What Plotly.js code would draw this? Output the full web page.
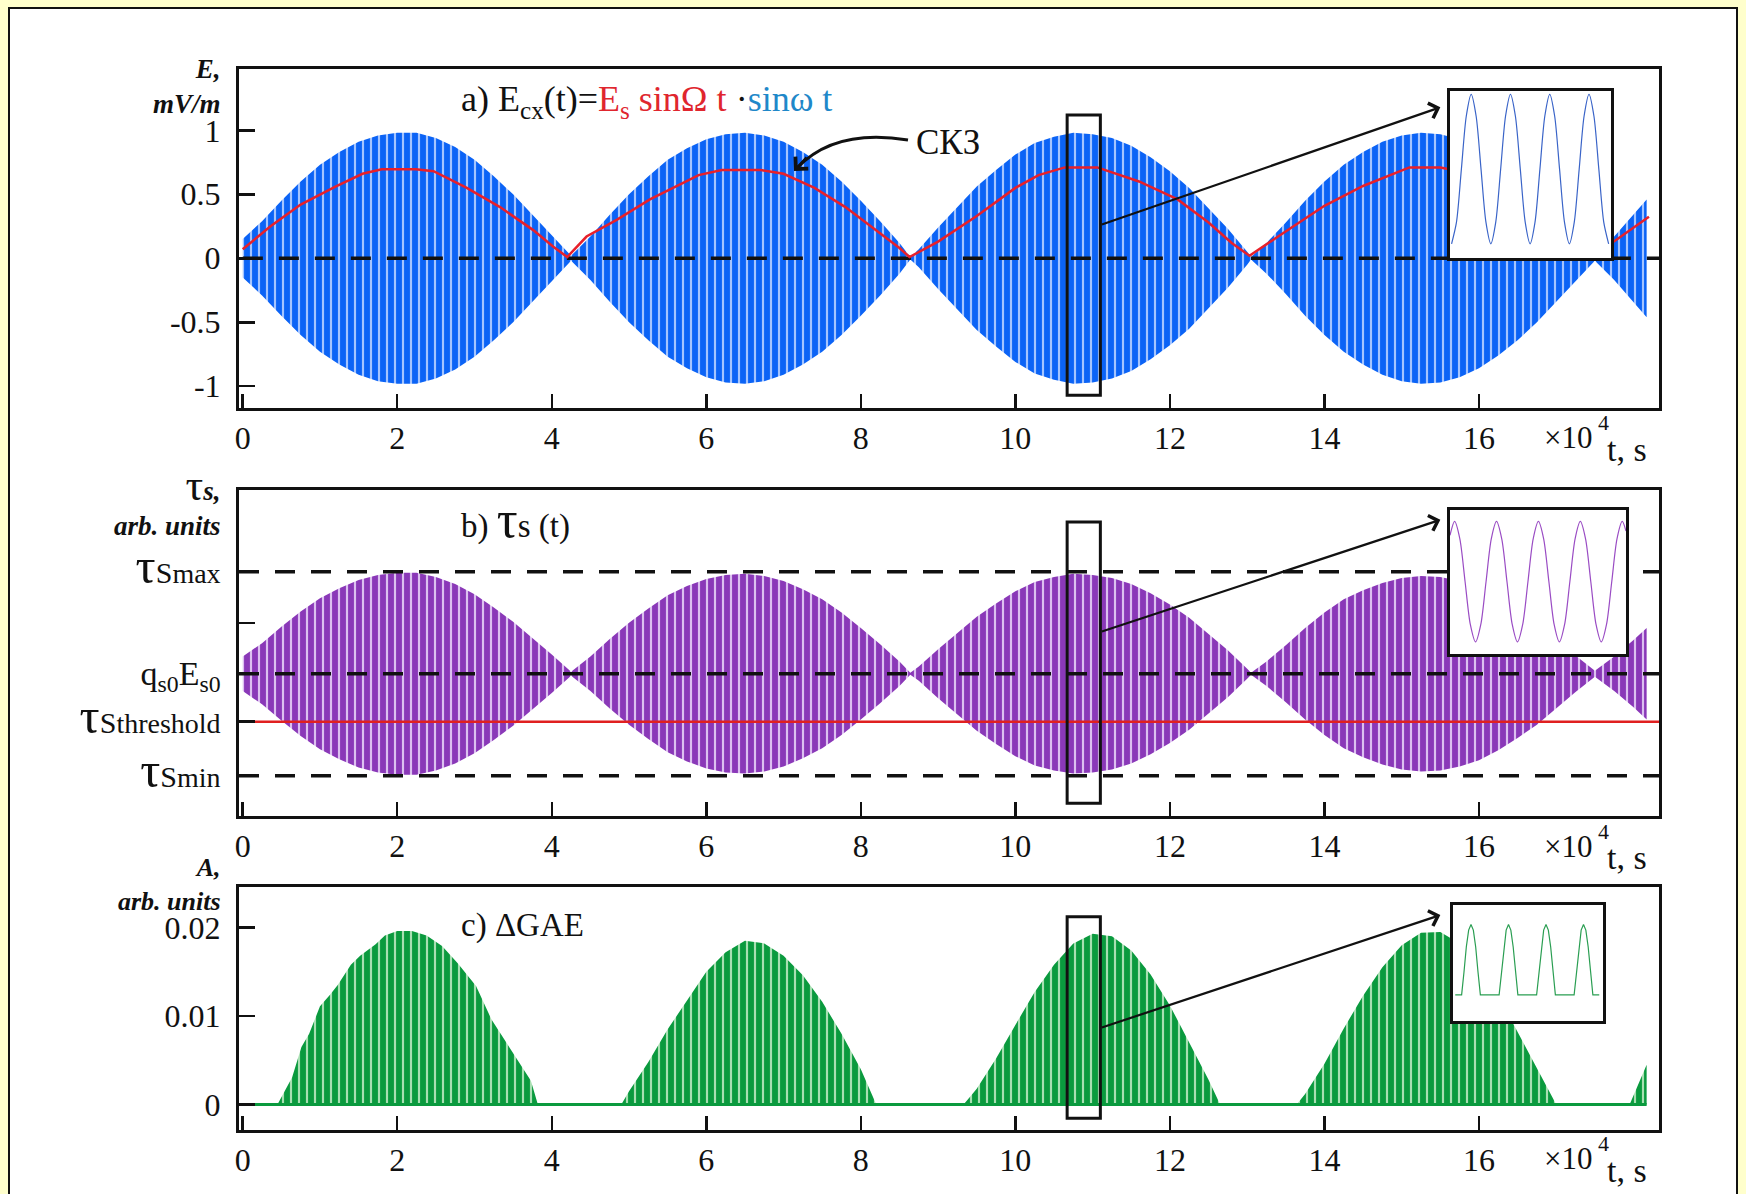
<!DOCTYPE html>
<html><head><meta charset="utf-8">
<script src="https://cdn.plot.ly/plotly-3.0.1.min.js"></script>
<style>html,body{margin:0;padding:0;background:#FFFFCC;}#chart{width:1746px;height:1194px;}</style>
</head><body><div id="chart"></div>
<script>
// ---------- data (units of 10^4 s) ----------
const tSig = [0,0.25,0.5,0.75,1,1.25,1.5,1.75,2,2.25,
  2.5,2.75,3,3.25,3.5,3.75,4,4.25,4.5,4.75,
  5,5.25,5.5,5.75,6,6.25,6.5,6.75,7,7.25,
  7.5,7.75,8,8.25,8.5,8.64,8.75,9,9.25,9.5,
  9.75,10,10.25,10.5,10.75,11,11.25,11.5,11.75,12,
  12.25,12.5,12.75,13,13.05,13.25,13.5,13.75,14,14.25,
  14.5,14.75,15,15.25,15.5,15.75,16,16.25,16.5,16.75,
  17,17.25,17.5,17.75,18,18.17];
// envelope of E(t), mV/m
const envE = [0.15,0.29,0.45,0.60,0.73,0.83,0.91,0.96,0.98,0.98,
  0.94,0.87,0.77,0.64,0.50,0.34,0.18,0.02,0.17,0.34,
  0.50,0.64,0.77,0.86,0.93,0.97,0.98,0.96,0.91,0.83,
  0.73,0.60,0.45,0.29,0.12,0.01,0.07,0.24,0.40,0.56,
  0.69,0.81,0.90,0.95,0.98,0.97,0.94,0.88,0.79,0.68,
  0.55,0.39,0.23,0.05,0.01,0.12,0.28,0.45,0.60,0.73,
  0.83,0.91,0.96,0.98,0.97,0.93,0.86,0.76,0.64,0.50,
  0.34,0.18,0.02,0.17,0.34,0.46];
// envelope of tau_s(t) around q_s0E_s0 (tau_Smax = +1, tau_Smin = -1)
const envTau = [0.17,0.30,0.46,0.61,0.74,0.84,0.92,0.97,0.99,0.99,
  0.95,0.88,0.78,0.65,0.51,0.35,0.19,0.02,0.17,0.34,
  0.50,0.64,0.77,0.86,0.93,0.97,0.98,0.96,0.91,0.83,
  0.73,0.60,0.45,0.29,0.12,0.01,0.07,0.24,0.40,0.56,
  0.69,0.81,0.90,0.95,0.98,0.97,0.94,0.88,0.79,0.68,
  0.55,0.39,0.23,0.05,0.01,0.12,0.28,0.45,0.60,0.73,
  0.82,0.89,0.94,0.96,0.95,0.91,0.85,0.75,0.63,0.50,
  0.34,0.18,0.03,0.17,0.33,0.45];
// RMS (СКЗ) curve
const tRms = [0,0.36,0.75,1.0,1.2,1.55,1.8,2.24,2.47,2.9,
  3.33,3.76,4.02,4.2,4.45,4.84,5.27,5.7,5.9,6.2,
  6.7,7.0,7.4,7.8,8.2,8.5,8.63,9.0,9.5,10.0,
  10.3,10.64,11.06,11.6,12.1,12.5,12.8,13.03,13.4,14.0,
  14.5,14.94,15.1,15.5,16.0,16.5,17.0,17.45,17.72,18.2];
const rms = [0.07,0.25,0.42,0.50,0.56,0.66,0.695,0.695,0.68,0.55,
  0.40,0.22,0.09,0.01,0.17,0.30,0.46,0.59,0.65,0.69,
  0.69,0.66,0.55,0.40,0.22,0.08,0.01,0.13,0.33,0.55,
  0.65,0.71,0.71,0.60,0.46,0.28,0.12,0.02,0.17,0.41,
  0.565,0.67,0.71,0.71,0.65,0.50,0.30,0.08,0.12,0.325];
// ΔGAE amplitude
const tGae = [0,0.45,0.64,0.76,0.86,1.0,1.13,1.23,1.4,1.52,1.72,1.84,2.0,2.19,2.38,2.58,2.78,3.02,3.22,3.42,3.61,3.73,3.82,
  4.9,5.0,5.25,5.5,5.75,6.0,6.25,6.5,6.75,7.0,7.25,7.5,7.75,8.0,8.2,
  9.33,9.5,9.75,10.0,10.25,10.5,10.75,11.0,11.25,11.5,11.75,12.0,12.25,12.5,12.65,
  13.64,13.75,14.0,14.25,14.5,14.75,15.0,15.25,15.5,15.75,16.0,16.25,16.5,16.75,17.0,
  17.95,18.05,18.17];
const gae = [0,0,0.0031,0.0065,0.008,0.0111,0.0124,0.0135,0.0158,0.0168,0.0181,0.0191,0.0196,0.0196,0.0191,0.0179,0.016,0.0134,0.0096,0.0069,0.0043,0.0027,0,
  0,0.0015,0.0048,0.0085,0.0118,0.015,0.0172,0.0185,0.0182,0.0168,0.0146,0.0116,0.008,0.004,0,
  0,0.0018,0.0052,0.009,0.0127,0.0158,0.0182,0.0193,0.019,0.0174,0.0147,0.0112,0.007,0.0028,0,
  0,0.0012,0.0046,0.0086,0.0123,0.0155,0.018,0.0194,0.0195,0.0182,0.0158,0.0123,0.0082,0.004,0,
  0,0.002,0.0045];
// zoomed-in fragments (insets), x in carrier periods
const tInsA = [0.04,0.165,0.29,0.415,0.54,0.665,0.79,0.915,1.04,1.165,1.29,1.415,1.54,1.665,1.79,1.915,2.04,
  2.165,2.29,2.415,2.54,2.665,2.79,2.915,3.04,3.165,3.29,3.415,3.54,3.665,3.79,3.915,4.04];
const insA = [-1,-0.71,0,0.71,1,0.71,0,-0.71,-1,-0.71,0,0.71,1,0.71,0,-0.71,-1,
  -0.71,0,0.71,1,0.71,0,-0.71,-1,-0.71,0,0.71,1,0.71,0,-0.71,-1];
const tInsB = [0,0.11,0.235,0.36,0.485,0.61,0.735,0.86,0.985,1.11,1.235,1.36,1.485,1.61,1.735,1.86,1.985,2.11,
  2.235,2.36,2.485,2.61,2.735,2.86,2.985,3.11,3.235,3.36,3.485,3.61,3.735,3.86,3.985,4.11,4.2];
const insB = [0.77,1,0.71,0,-0.71,-1,-0.71,0,0.71,1,0.71,0,-0.71,-1,-0.71,0,0.71,1,
  0.71,0,-0.71,-1,-0.71,0,0.71,1,0.71,0,-0.71,-1,-0.71,0,0.71,1,0.84];
const tInsC = [0.06,0.23,0.2925,0.355,0.4175,0.48,0.5425,0.605,0.6675,0.73,
  1.23,1.2925,1.355,1.4175,1.48,1.5425,1.605,1.6675,1.73,
  2.23,2.2925,2.355,2.4175,2.48,2.5425,2.605,2.6675,2.73,
  3.23,3.2925,3.355,3.4175,3.48,3.5425,3.605,3.6675,3.73,3.9];
const insC = [0,0,0.32,0.68,0.92,1,0.92,0.68,0.32,0,
  0,0.32,0.68,0.92,1,0.92,0.68,0.32,0,
  0,0.32,0.68,0.92,1,0.92,0.68,0.32,0,
  0,0.32,0.68,0.92,1,0.92,0.68,0.32,0,0];
// axes ticks / levels
const xTicks = [0,2,4,6,8,10,12,14,16];
const xTickText = ['0','2','4','6','8','10','12','14','16'];
const eTicks = [-1,-0.5,0,0.5,1];
const eTickText = ['-1','-0.5','0','0.5','1'];
const tauTicks = [-1,-0.47,0,0.5,1];
const TAU = s => '<span style="font-size:50px">τ</span><span style="font-size:30px">S</span><span style="font-size:28px">' + s + '</span>';
const tauTickText = [TAU('min'), TAU('threshold'),
  '<span style="font-size:34px">q<sub>s0</sub>E<sub>s0</sub></span>', '', TAU('max')];
const tauLevels = [1, 0, -1];   // dashed: tau_Smax, q_s0E_s0, tau_Smin
const tauThreshold = -0.47;
const aTicks = [0,0.01,0.02];
const aTickText = ['0','0.01','0.02'];

// ---------- geometry helpers ----------
const W = 1746, H = 1194;
const px = v => v / W, py = v => 1 - v / H;
const F = 'Liberation Serif, Times New Roman, serif';
const XR = [-0.048, 18.33];
const xDom = [px(239), px(1659)];

function mainX(anchor) {
  return {domain: xDom, range: XR, anchor: anchor, tickvals: xTicks, ticktext: xTickText,
    ticks: 'inside', ticklen: 14, tickwidth: 2.5, tickcolor: '#111', showline: true, linewidth: 3,
    linecolor: '#111', mirror: true, showgrid: false, zeroline: false,
    tickfont: {family: F, size: 32, color: '#111'}, ticklabelstandoff: 0, fixedrange: true};
}
function mainY(anchor, dom, range, vals, text) {
  return {domain: dom, range: range, anchor: anchor, tickvals: vals, ticktext: text,
    ticks: 'inside', ticklen: 16, tickwidth: 2.5, tickcolor: '#111', showline: true, linewidth: 3,
    linecolor: '#111', mirror: true, showgrid: false, zeroline: false,
    tickfont: {family: F, size: 32, color: '#111'}, ticklabelstandoff: 9, fixedrange: true};
}
function insetAx(anchor, dom, range) {
  return {domain: dom, range: range, anchor: anchor, showline: true, linewidth: 3, linecolor: '#111',
    mirror: true, ticks: '', showticklabels: false, showgrid: false, zeroline: false, fixedrange: true};
}

const neg = a => a.map(v => -v);
const traces = [];
// panel a: E(t)
traces.push({x: tSig, y: neg(envE), xaxis: 'x', yaxis: 'y', type: 'scatter', mode: 'lines', line: {width: 0, color: '#0b63f6'}});
traces.push({x: tSig, y: envE, xaxis: 'x', yaxis: 'y', type: 'scatter', mode: 'lines', line: {width: 0, color: '#0b63f6'},
  fill: 'tonexty', fillcolor: '#0b63f6',
  fillpattern: {shape: '|', fillmode: 'replace', bgcolor: '#0b63f6', fgcolor: '#a4c4ff', size: 8, solidity: 0.27}});
traces.push({x: [XR[0] + 0.05, XR[1]], y: [0, 0], xaxis: 'x', yaxis: 'y', type: 'scatter', mode: 'lines',
  line: {color: '#111', width: 3.5, dash: '20px,16px'}});
traces.push({x: tRms, y: rms, xaxis: 'x', yaxis: 'y', type: 'scatter', mode: 'lines', line: {color: '#e8202a', width: 2.5}});
// panel b: tau_s(t)
traces.push({x: tSig, y: neg(envTau), xaxis: 'x2', yaxis: 'y2', type: 'scatter', mode: 'lines', line: {width: 0, color: '#8a38b8'}});
traces.push({x: tSig, y: envTau, xaxis: 'x2', yaxis: 'y2', type: 'scatter', mode: 'lines', line: {width: 0, color: '#8a38b8'},
  fill: 'tonexty', fillcolor: '#8a38b8',
  fillpattern: {shape: '|', fillmode: 'replace', bgcolor: '#8a38b8', fgcolor: '#dcc0f0', size: 8, solidity: 0.27}});
const dx = [], dy = [];
tauLevels.forEach(v => { dx.push(XR[0], XR[1], null); dy.push(v, v, null); });
traces.push({x: dx, y: dy, xaxis: 'x2', yaxis: 'y2', type: 'scatter', mode: 'lines',
  line: {color: '#111', width: 3.5, dash: '20px,16px'}, connectgaps: false});
traces.push({x: XR, y: [tauThreshold, tauThreshold], xaxis: 'x2', yaxis: 'y2', type: 'scatter', mode: 'lines',
  line: {color: '#e02020', width: 2.5}});
// panel c: ΔGAE
traces.push({x: tGae, y: gae, xaxis: 'x3', yaxis: 'y3', type: 'scatter', mode: 'lines', line: {width: 0, color: '#0a9a3e'},
  fill: 'tozeroy', fillcolor: '#0a9a3e',
  fillpattern: {shape: '|', fillmode: 'replace', bgcolor: '#0a9a3e', fgcolor: '#a8dfb2', size: 8, solidity: 0.27}});
traces.push({x: [tGae[0], tGae[tGae.length - 1]], y: [0, 0], xaxis: 'x3', yaxis: 'y3', type: 'scatter', mode: 'lines',
  line: {color: '#0a9a3e', width: 3}});
// insets
traces.push({x: tInsA, y: insA, xaxis: 'x4', yaxis: 'y4', type: 'scatter', mode: 'lines', line: {color: '#3a64c8', width: 1.2, shape: 'spline', smoothing: 0.8}});
traces.push({x: tInsB, y: insB, xaxis: 'x5', yaxis: 'y5', type: 'scatter', mode: 'lines', line: {color: '#9a4cc4', width: 1.2, shape: 'spline', smoothing: 0.8}});
traces.push({x: tInsC, y: insC, xaxis: 'x6', yaxis: 'y6', type: 'scatter', mode: 'lines', line: {color: '#2a9e52', width: 1.2}});

const ann = (x, y, text, size, anchor, extra) => Object.assign({xref: 'paper', yref: 'paper', x: px(x), y: py(y),
  xanchor: anchor || 'left', yanchor: 'middle', showarrow: false, text: text, borderpad: 0,
  font: {family: F, size: size, color: '#111'}}, extra || {});

const layout = {
  width: W, height: H, margin: {l: 0, r: 0, t: 0, b: 0},
  paper_bgcolor: '#FFFFCC', plot_bgcolor: '#ffffff', showlegend: false, hovermode: false,
  font: {family: F, color: '#111'},
  xaxis: mainX('y'),
  yaxis: mainY('x', [py(408), py(69)], [-1.17, 1.479], eTicks, eTickText),
  xaxis2: mainX('y2'),
  yaxis2: mainY('x2', [py(816), py(490)], [-1.396, 1.803], tauTicks, tauTickText),
  xaxis3: mainX('y3'),
  yaxis3: mainY('x3', [py(1130), py(887)], [-0.00287, 0.02457], aTicks, aTickText),
  xaxis4: insetAx('y4', [px(1450), px(1611)], [0, 4.1]),
  yaxis4: insetAx('x4', [py(258), py(91)], [-1.19, 1.045]),
  xaxis5: insetAx('y5', [px(1450), px(1626)], [0, 4.2]),
  yaxis5: insetAx('x5', [py(654), py(510)], [-1.2, 1.19]),
  xaxis6: insetAx('y6', [px(1453), px(1603)], [0, 4.0]),
  yaxis6: insetAx('x6', [py(1021), py(905)], [-0.373, 1.277]),
  shapes: [
    {type: 'rect', xref: 'paper', yref: 'paper', x0: px(9), x1: px(1737), y0: -0.02, y1: py(8),
      fillcolor: '#ffffff', line: {color: '#111', width: 2}, layer: 'below'},
    {type: 'rect', xref: 'x', yref: 'y', x0: 10.67, x1: 11.1, y0: -1.07, y1: 1.12, line: {color: '#111', width: 3}},
    {type: 'rect', xref: 'x2', yref: 'y2', x0: 10.67, x1: 11.1, y0: -1.27, y1: 1.49, line: {color: '#111', width: 3}},
    {type: 'rect', xref: 'x3', yref: 'y3', x0: 10.67, x1: 11.1, y0: -0.00155, y1: 0.02122, line: {color: '#111', width: 3}},
    {type: 'path', xref: 'paper', yref: 'paper',
      path: 'M' + px(908) + ',' + py(140) + ' Q' + px(835) + ',' + py(128) + ' ' + px(797) + ',' + py(168),
      line: {color: '#111', width: 3}}
  ],
  annotations: [
    // zoom arrows
    {xref: 'x', yref: 'y', axref: 'x', ayref: 'y', x: 15.5, y: 1.18, ax: 11.1, ay: 0.26, text: '', showarrow: true,
      arrowhead: 4, arrowsize: 1.4, arrowwidth: 2.2, arrowcolor: '#111'},
    {xref: 'x2', yref: 'y2', axref: 'x2', ayref: 'y2', x: 15.5, y: 1.51, ax: 11.1, ay: 0.41, text: '', showarrow: true,
      arrowhead: 4, arrowsize: 1.4, arrowwidth: 2.2, arrowcolor: '#111'},
    {xref: 'x3', yref: 'y3', axref: 'x3', ayref: 'y3', x: 15.5, y: 0.0214, ax: 11.1, ay: 0.00865, text: '', showarrow: true,
      arrowhead: 4, arrowsize: 1.4, arrowwidth: 2.2, arrowcolor: '#111'},
    // curved arrow head (СКЗ)
    {xref: 'paper', yref: 'paper', x: px(794), y: py(171), axref: 'pixel', ayref: 'pixel', ax: 14, ay: -15, text: '',
      showarrow: true, arrowhead: 4, arrowsize: 1.3, arrowwidth: 2.6, arrowcolor: '#111'},
    ann(915, 143, 'СКЗ', 35),
    // panel titles
    ann(460, 101, 'a) E<sub>cx</sub>(t)=<span style="color:#e0262e">E<sub>s</sub> sinΩ t</span> ·<span style="color:#1f88c9">sinω t</span>', 36),
    ann(460, 519, 'b) <span style="font-size:52px">τ</span>s (t)', 33),
    ann(460, 925, 'c) ΔGAE', 33),
    // y-axis titles (two lines each)
    ann(222, 86, '<b><i>E,</i></b><br><b><i>mV/m</i></b>', 27, 'right', {align: 'right'}),
    ann(222, 501, '<span style="font-size:44px">τ</span><b><i>s,</i></b><br><b><i>arb. units</i></b>', 27, 'right', {align: 'right'}),
    ann(222, 884, '<b><i>A,</i></b><br><b><i>arb. units</i></b>', 26, 'right', {align: 'right'})
  ]
};
// x-axis multiplier and unit labels for each panel
[[438, 450], [846, 857], [1158, 1170]].forEach(([yMul, yUnit]) => {
  layout.annotations.push(ann(1543, yMul, '×10', 31));
  layout.annotations.push(ann(1603, yMul - 15, '4', 22, 'center'));
  layout.annotations.push(ann(1606, yUnit, 't, s', 34));
});

Plotly.newPlot('chart', traces, layout, {staticPlot: true, displayModeBar: false});
</script></body></html>
